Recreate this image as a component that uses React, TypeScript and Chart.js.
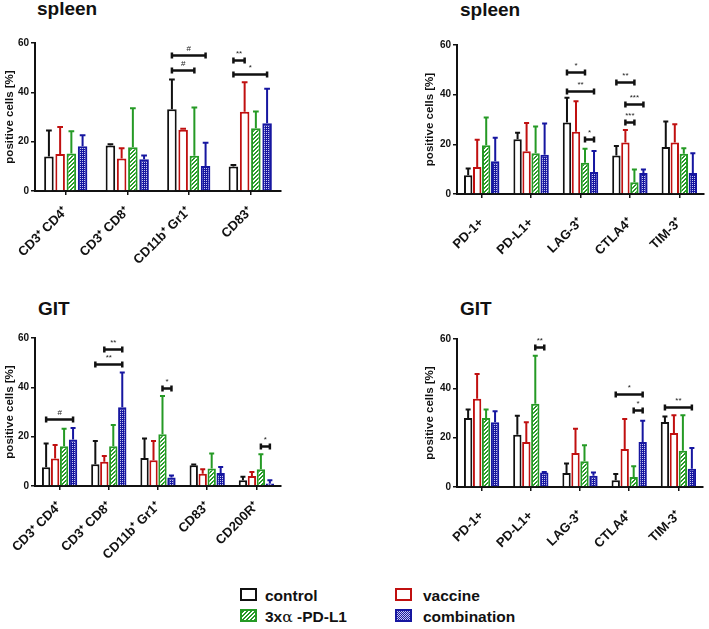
import React, { useEffect, useRef } from "react";
import { Chart, registerables } from "chart.js";
Chart.register(...registerables);

const FONT = "'Liberation Sans', Arial, Helvetica, sans-serif";

// ---------- Panel A: spleen, cell populations ----------
const catsA = ["CD3⁺ CD4⁺", "CD3⁺ CD8⁺", "CD11b⁺ Gr1⁺", "CD83⁺"];
const ctrlA = [14.0, 18.4, 33.1, 9.9];
const ctrlSdA = [10.5, 0.6, 12.1, 0.6];
const vacA = [15.0, 13.2, 24.8, 32.1];
const vacSdA = [10.9, 4.1, 0.4, 12.0];
const antiA = [15.2, 17.7, 14.3, 25.4];
const antiSdA = [9.0, 15.8, 19.6, 6.8];
const comboA = [18.1, 12.9, 10.1, 27.5];
const comboSdA = [4.5, 1.5, 9.5, 14.0];
// [category, fromSeries, toSeries, y, label]
const sigA: [number, number, number, number, string][] = [
  [2, 0, 3, 55.1, "#"],
  [2, 0, 2, 49.0, "#"],
  [3, 0, 1, 53.3, "**"],
  [3, 0, 3, 47.3, "*"],
];

// ---------- Panel B: spleen, checkpoints ----------
const catsB = ["PD-1+", "PD-L1+", "LAG-3⁺", "CTLA4⁺", "TIM-3⁺"];
const ctrlB = [7.6, 22.0, 28.8, 15.5, 18.9];
const ctrlSdB = [2.7, 2.7, 10.0, 3.8, 10.3];
const vacB = [10.9, 17.2, 25.1, 20.7, 20.7];
const vacSdB = [10.9, 11.4, 12.2, 5.1, 7.4];
const antiB = [19.6, 16.4, 12.6, 4.7, 16.2];
const antiSdB = [11.2, 10.8, 5.6, 5.2, 2.2];
const comboB = [13.2, 15.8, 8.9, 8.5, 8.5];
const comboSdB = [9.5, 12.6, 8.4, 1.4, 7.9];
const sigB: [number, number, number, number, string][] = [
  [2, 0, 2, 49.1, "*"],
  [2, 0, 3, 41.6, "**"],
  [2, 2, 3, 22.0, "*"],
  [3, 0, 2, 45.0, "**"],
  [3, 1, 3, 36.2, "***"],
  [3, 1, 2, 29.1, "***"],
];

// ---------- Panel C: GIT, cell populations ----------
const catsC = ["CD3⁺ CD4⁺", "CD3⁺ CD8⁺", "CD11b⁺ Gr1⁺", "CD83⁺", "CD200R⁺"];
const ctrlC = [7.6, 8.8, 11.4, 8.4, 2.3];
const ctrlSdC = [9.6, 9.4, 7.9, 0.3, 1.4];
const vacC = [11.1, 9.8, 10.4, 5.0, 4.1];
const vacSdC = [5.5, 2.4, 7.8, 1.8, 1.6];
const antiC = [16.1, 16.1, 21.0, 7.1, 6.8];
const antiSdC = [7.1, 8.6, 15.5, 6.1, 6.1];
const comboC = [18.9, 31.9, 3.4, 5.3, 1.0];
const comboSdC = [4.6, 14.1, 0.9, 2.4, 1.3];
const sigC: [number, number, number, number, string][] = [
  [0, 0, 3, 27.1, "#"],
  [1, 0, 3, 49.4, "**"],
  [1, 1, 3, 55.6, "**"],
  [2, 2, 3, 39.9, "*"],
  [4, 2, 3, 16.1, "*"],
];

// ---------- Panel D: GIT, checkpoints ----------
const catsD = ["PD-1+", "PD-L1+", "LAG-3⁺", "CTLA4⁺", "TIM-3⁺"];
const ctrlD = [28.0, 21.2, 5.7, 2.7, 26.4];
const ctrlSdD = [3.4, 7.7, 3.8, 2.6, 2.2];
const vacD = [35.8, 18.2, 13.8, 15.4, 21.9];
const vacSdD = [10.0, 8.0, 9.8, 12.2, 7.2];
const antiD = [28.0, 33.8, 10.4, 4.1, 14.7];
const antiSdD = [3.4, 19.4, 6.5, 4.3, 14.4];
const comboD = [26.2, 5.9, 4.6, 18.2, 7.4];
const comboSdD = [4.5, 0.2, 1.3, 8.7, 8.4];
const sigD: [number, number, number, number, string][] = [
  [1, 2, 3, 56.8, "**"],
  [3, 0, 3, 37.8, "*"],
  [3, 2, 3, 31.4, "*"],
  [4, 0, 3, 32.4, "**"],
];

const yTicks = [0, 20, 40, 60];

const BLACK = "#111111";
const RED = "#c01010";
const GREEN = "#259a25";
const BLUE = "#1616a0";

function makeGreenPattern(ctx: CanvasRenderingContext2D) {
  const c = document.createElement("canvas");
  c.width = 4;
  c.height = 4;
  const g = c.getContext("2d")!;
  g.fillStyle = "#ffffff";
  g.fillRect(0, 0, 4, 4);
  g.fillStyle = GREEN;
  for (let x = 0; x < 4; x++)
    for (let y = 0; y < 4; y++) {
      const s = (x + y) % 4;
      if (s === 3 || s === 0) g.fillRect(x, y, 1, 1);
    }
  return ctx.createPattern(c, "repeat")!;
}

function makeBluePattern(ctx: CanvasRenderingContext2D) {
  const c = document.createElement("canvas");
  c.width = 2;
  c.height = 2;
  const g = c.getContext("2d")!;
  g.fillStyle = BLUE;
  g.fillRect(0, 0, 2, 2);
  g.fillStyle = "#c8c8f0";
  g.fillRect(0, 0, 1, 1);
  return ctx.createPattern(c, "repeat")!;
}

type PanelProps = {
  x: number;
  y: number;
  w: number;
  h: number;
  cats: string[];
  vals: number[][];
  sds: number[][];
  sig: [number, number, number, number, string][];
  padTop: number;
  padRight: number;
  yW: number;
  xH: number;
  barPct: number;
  labPad: number;
};

function Panel(p: PanelProps) {
  const ref = useRef<HTMLCanvasElement>(null);
  useEffect(() => {
    const canvas = ref.current!;
    const ctx = canvas.getContext("2d")!;
    const fills = ["#ffffff", "#ffffff", makeGreenPattern(ctx), makeBluePattern(ctx)];
    const borders = [BLACK, RED, GREEN, BLUE];
    const names = ["control", "vaccine", "3xα-PD-L1", "combination"];

    const errPlugin = {
      id: "errbars",
      afterDatasetsDraw(chart: any) {
        const c = chart.ctx;
        const ys = chart.scales.y;
        chart.data.datasets.forEach((ds: any, di: number) => {
          const meta = chart.getDatasetMeta(di);
          meta.data.forEach((bar: any, i: number) => {
            const v = ds.data[i];
            const sd = ds.sd[i];
            const yb = ys.getPixelForValue(v);
            const yt = ys.getPixelForValue(v + sd);
            const cap = Math.max(2.5, bar.width * 0.3);
            c.save();
            c.strokeStyle = ds.borderColor;
            c.lineWidth = 2;
            c.beginPath();
            c.moveTo(bar.x, yb);
            c.lineTo(bar.x, yt);
            c.moveTo(bar.x - cap, yt);
            c.lineTo(bar.x + cap, yt);
            c.stroke();
            c.restore();
          });
        });
      },
    };

    const sigPlugin = {
      id: "sig",
      afterDatasetsDraw(chart: any) {
        const c = chart.ctx;
        const ys = chart.scales.y;
        p.sig.forEach(([cat, a, b, yv, lab]) => {
          const x1 = chart.getDatasetMeta(a).data[cat].x;
          const x2 = chart.getDatasetMeta(b).data[cat].x;
          const py = Math.round(ys.getPixelForValue(yv)) + 0.5;
          c.save();
          c.strokeStyle = "#111";
          c.lineWidth = 2.5;
          c.beginPath();
          c.moveTo(x1, py);
          c.lineTo(x2, py);
          c.moveTo(x1, py - 3);
          c.lineTo(x1, py + 3);
          c.moveTo(x2, py - 3);
          c.lineTo(x2, py + 3);
          c.stroke();
          c.fillStyle = "#222";
          c.font = `8px ${FONT}`;
          c.textAlign = "center";
          c.textBaseline = "bottom";
          c.fillText(lab, (x1 + x2) / 2, py - 3);
          c.restore();
        });
      },
    };

    const chart = new Chart(canvas, {
      type: "bar",
      data: {
        labels: p.cats,
        datasets: p.vals.map((d, i) => ({
          label: names[i],
          data: d,
          sd: p.sds[i],
          backgroundColor: fills[i],
          borderColor: borders[i],
          borderWidth: 2,
          borderSkipped: "start",
          categoryPercentage: 0.73,
          barPercentage: p.barPct,
        })) as any,
      },
      options: {
        animation: false,
        responsive: false,
        devicePixelRatio: 1,
        layout: { padding: { top: p.padTop, right: p.padRight, bottom: 0, left: 0 } },
        plugins: { legend: { display: false }, tooltip: { enabled: false }, title: { display: false } },
        scales: {
          x: {
            afterFit(s: any) {
              s.height = p.xH;
            },
            grid: {
              display: true,
              drawOnChartArea: false,
              drawTicks: true,
              tickLength: 4,
              offset: false,
              color: "#111",
              lineWidth: 1.5,
            },
            border: { display: true, color: "#111", width: 2 },
            ticks: {
              autoSkip: false,
              maxRotation: 45,
              minRotation: 45,
              color: "#111",
              padding: p.labPad,
              font: { family: FONT, size: 13, weight: "bold" },
            },
          },
          y: {
            min: 0,
            max: 60,
            afterFit(s: any) {
              s.width = p.yW;
            },
            afterBuildTicks(s: any) {
              s.ticks = yTicks.map((v) => ({ value: v }));
            },
            grid: {
              display: true,
              drawOnChartArea: false,
              drawTicks: true,
              tickLength: 4,
              color: "#111",
              lineWidth: 1.5,
            },
            border: { display: true, color: "#111", width: 2 },
            ticks: {
              color: "#111",
              padding: 2,
              font: { family: FONT, size: 10, weight: "bold" },
            },
            title: {
              display: true,
              text: "positive cells [%]",
              color: "#111",
              padding: { top: 3, bottom: 0 },
              font: { family: FONT, size: 11.5, weight: "bold" },
            },
          },
        },
      },
      plugins: [errPlugin, sigPlugin],
    } as any);
    return () => chart.destroy();
  }, []);
  return (
    <canvas
      ref={ref}
      width={p.w}
      height={p.h}
      style={{ position: "absolute", left: p.x, top: p.y, width: p.w, height: p.h }}
    />
  );
}

const titleStyle = (left: number, top: number): React.CSSProperties => ({
  position: "absolute",
  left,
  top,
  fontFamily: FONT,
  fontWeight: "bold",
  fontSize: 19,
  lineHeight: "19px",
  color: "#111",
  whiteSpace: "nowrap",
});

const legText = (left: number, top: number): React.CSSProperties => ({
  position: "absolute",
  left,
  top,
  fontFamily: FONT,
  fontWeight: "bold",
  fontSize: 15.5,
  lineHeight: "16px",
  color: "#111",
  whiteSpace: "nowrap",
});

const legBox = (left: number, top: number, color: string, bg: string): React.CSSProperties => ({
  position: "absolute",
  left,
  top,
  width: 17,
  height: 13,
  boxSizing: "border-box",
  border: `2px solid ${color}`,
  background: bg,
});

export default function App() {
  return (
    <div style={{ position: "absolute", left: 0, top: 0, width: 709, height: 629, background: "#fff", overflow: "hidden" }}>
      <div style={titleStyle(37, -1)}>spleen</div>
      <div style={titleStyle(460, 0)}>spleen</div>
      <div style={titleStyle(38, 299)}>GIT</div>
      <div style={titleStyle(460, 299)}>GIT</div>

      <Panel x={0} y={0} w={300} h={280} cats={catsA}
        vals={[ctrlA, vacA, antiA, comboA]} sds={[ctrlSdA, vacSdA, antiSdA, comboSdA]} sig={sigA}
        padTop={43} padRight={19} yW={35} xH={89} barPct={0.85} labPad={9} />
      <Panel x={420} y={0} w={289} h={280} cats={catsB}
        vals={[ctrlB, vacB, antiB, comboB]} sds={[ctrlSdB, vacSdB, antiSdB, comboSdB]} sig={sigB}
        padTop={45} padRight={5} yW={37} xH={86} barPct={0.93} labPad={17} />
      <Panel x={0} y={290} w={300} h={280} cats={catsC}
        vals={[ctrlC, vacC, antiC, comboC]} sds={[ctrlSdC, vacSdC, antiSdC, comboSdC]} sig={sigC}
        padTop={48} padRight={19} yW={35} xH={84} barPct={0.93} labPad={9} />
      <Panel x={420} y={290} w={289} h={280} cats={catsD}
        vals={[ctrlD, vacD, antiD, comboD]} sds={[ctrlSdD, vacSdD, antiSdD, comboSdD]} sig={sigD}
        padTop={49} padRight={6} yW={37} xH={83} barPct={0.93} labPad={17} />

      <div style={legBox(240, 588, BLACK, "#fff")} />
      <div style={legText(265, 588)}>control</div>
      <div style={legBox(395, 588, RED, "#fff")} />
      <div style={legText(423, 588)}>vaccine</div>
      <div style={legBox(240, 609, GREEN, `repeating-linear-gradient(-45deg, ${GREEN} 0 1.4px, #fff 1.4px 2.8px)`)} />
      <div style={legText(265, 609)}>
        3x<span style={{ fontFamily: "'DejaVu Serif', serif", fontWeight: "normal" }}>α</span> -PD-L1
      </div>
      <div style={legBox(395, 609, BLUE, `repeating-conic-gradient(${BLUE} 0 25%, #c8c8f0 0 50%) 0 0 / 2px 2px`)} />
      <div style={legText(423, 609)}>combination</div>
    </div>
  );
}
